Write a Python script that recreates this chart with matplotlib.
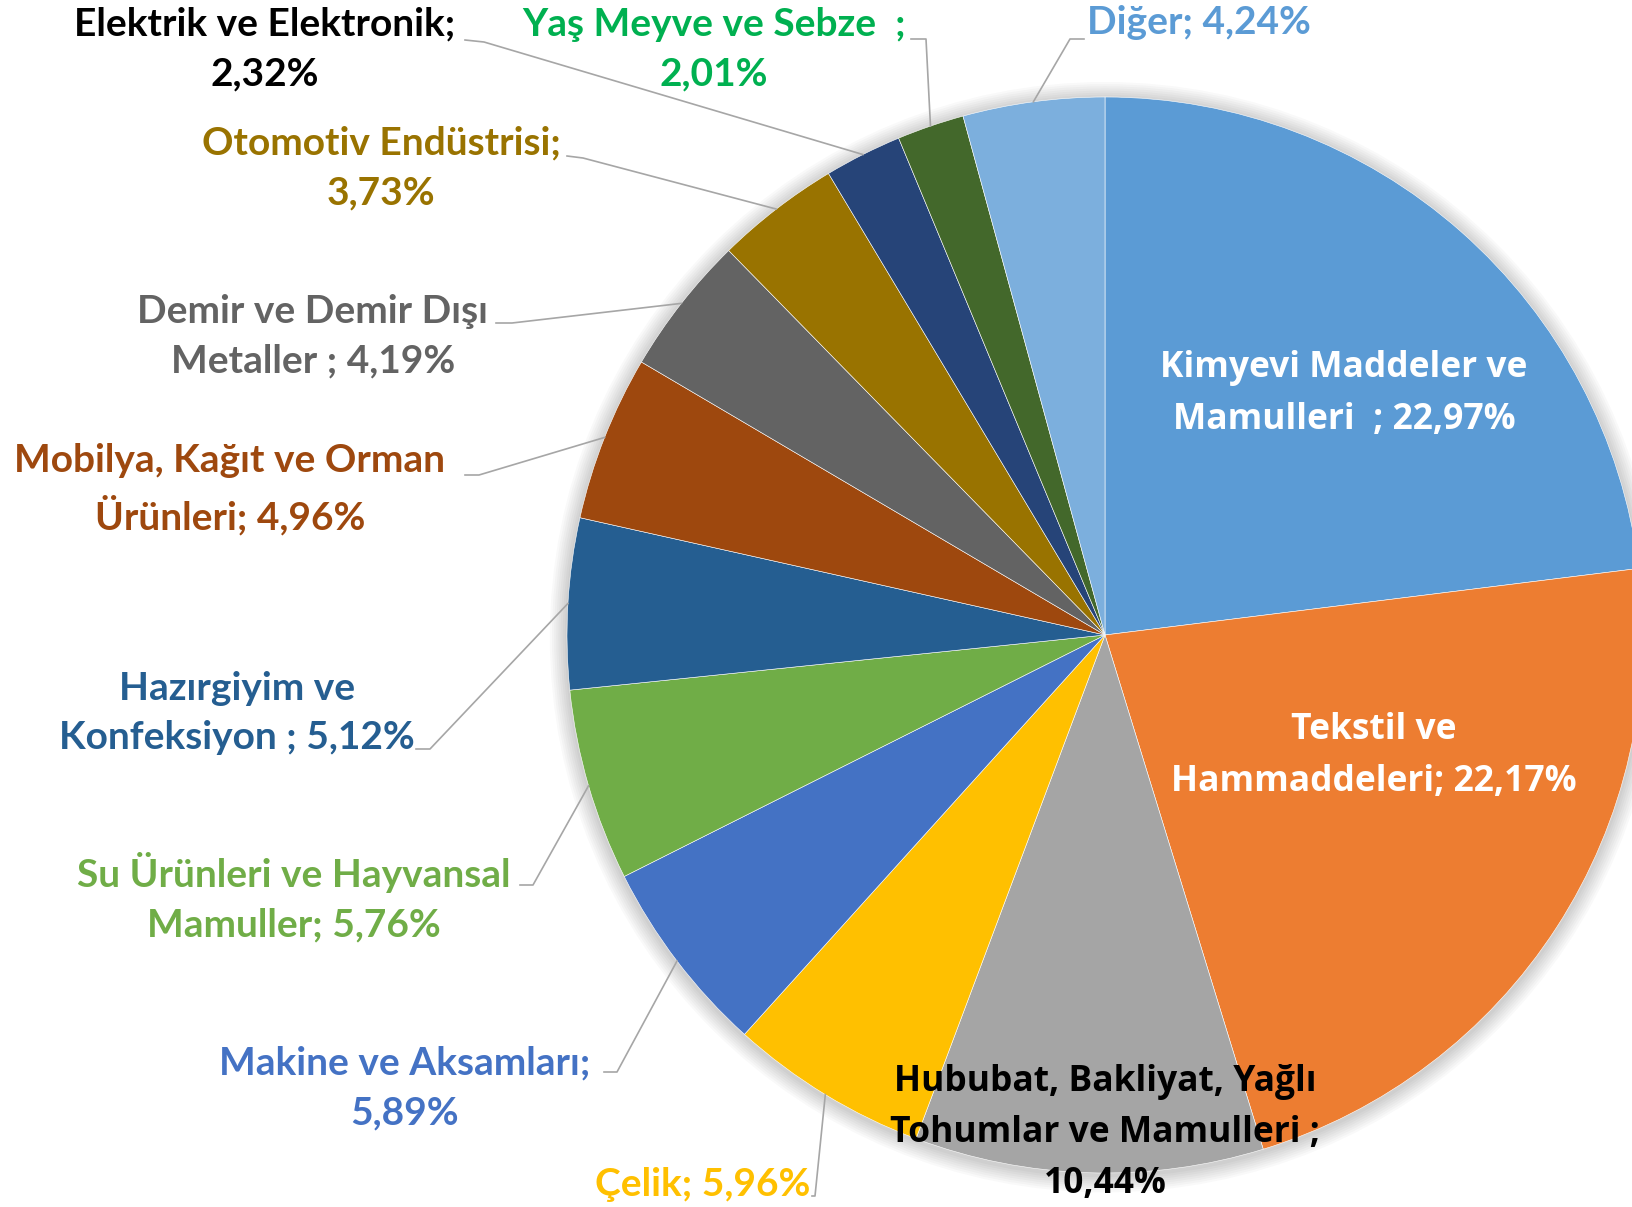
import numpy as np
import matplotlib.pyplot as plt
from matplotlib.patches import Circle

# sector shares (%), clockwise from 12 o'clock
categories = ["Kimyevi Maddeler ve Mamulleri", "Tekstil ve Hammaddeleri",
              "Hububat, Bakliyat, Yağlı Tohumlar ve Mamulleri", "Çelik",
              "Makine ve Aksamları", "Su Ürünleri ve Hayvansal Mamuller",
              "Hazırgiyim ve Konfeksiyon", "Mobilya, Kağıt ve Orman Ürünleri",
              "Demir ve Demir Dışı Metaller", "Otomotiv Endüstrisi",
              "Elektrik ve Elektronik", "Yaş Meyve ve Sebze", "Diğer"]
values = [22.97, 22.17, 10.44, 5.96, 5.89, 5.76, 5.12, 4.96, 4.19, 3.73, 2.32, 2.01, 4.24]
label_fmt = ["Kimyevi Maddeler ve\nMamulleri  ; {}%", "Tekstil ve\nHammaddeleri; {}%",
             "Hububat, Bakliyat, Yağlı\nTohumlar ve Mamulleri ;\n{}%", "Çelik; {}%",
             "Makine ve Aksamları;\n{}%", "Su Ürünleri ve Hayvansal\nMamuller; {}%",
             "Hazırgiyim ve\nKonfeksiyon ; {}%", "Mobilya, Kağıt ve Orman\nÜrünleri; {}%",
             "Demir ve Demir Dışı\nMetaller ; {}%", "Otomotiv Endüstrisi;\n{}%",
             "Elektrik ve Elektronik;\n{}%", "Yaş Meyve ve Sebze  ;\n{}%", "Diğer; {}%"]

colors = ["#5B9BD5", "#ED7D31", "#A5A5A5", "#FFC000", "#4472C4", "#70AD47", "#255E91",
          "#9E480E", "#636363", "#997300", "#264478", "#43682B", "#7CAFDD"]
text_colors = ["white", "white", "black", "#FFC000", "#4472C4", "#70AD47", "#255E91",
               "#9E480E", "#636363", "#997300", "black", "#00B050", "#5B9BD5"]

# layout in pixels of the 1632x1207 output
W, H = 1632, 1207
cx, cy, R = 1105, 635, 538
label_pos = [(1344, 394), (1374, 756), (1105, 1133), (703, 1184), (405, 1088),
             (294, 897), (237, 713), (230, 489), (313, 336), (381, 168),
             (265, 49), (714, 49), (1199, 23)]
# leader stub (start, end) next to the text; None = label inside
stubs = [None, None, None, ((812, 1196), (815, 1196)), ((604, 1072), (617, 1072)),
         ((520, 885), (533, 885)), ((416, 749), (430, 749)), ((465, 475), (479, 475)),
         ((496, 323), (512, 323)), ((567, 156), (583, 158)), ((465, 40), (484, 42)),
         ((911, 39), (926, 39)), ((1084, 39), (1070, 39))]


def to_data(p):
    return (p[0] - cx) / R, (cy - p[1]) / R


fig = plt.figure(figsize=(W / 100, H / 100), dpi=100)
ax = fig.add_axes([0, 0, 1, 1])

# soft shadow around the pie
for k in range(8):
    ax.add_patch(Circle((0, -0.004), 1 + 0.004 * (8 - k), color="black", alpha=0.025, lw=0, zorder=0))

wedges, _ = ax.pie(values, colors=colors, startangle=90, counterclock=False, radius=1,
                   wedgeprops=dict(edgecolor="white", linewidth=0.4, zorder=1))

for i, w in enumerate(wedges):
    txt = label_fmt[i].format(f"{values[i]:.2f}".replace(".", ","))
    tx, ty = to_data(label_pos[i])
    if i < 3:
        fam, fs, ls = "Open Sans", 25.5, 1.56
    else:
        fam, fs, ls = "Lato", 28, 1.5
    ax.text(tx, ty, txt, ha="center", va="center", color=text_colors[i], fontsize=fs,
            fontweight="bold", family=fam, linespacing=ls, zorder=5)
    if stubs[i] is not None:
        mid = np.deg2rad((w.theta1 + w.theta2) / 2)
        ex, ey = np.cos(mid), np.sin(mid)
        (x0, y0), (x1, y1) = to_data(stubs[i][0]), to_data(stubs[i][1])
        ax.plot([x0, x1, ex], [y0, y1, ey], color="#A6A6A6", lw=1.2, zorder=4)

ax.set_xlim(-cx / R, (W - cx) / R)
ax.set_ylim((cy - H) / R, cy / R)
ax.set_aspect("auto")
ax.axis("off")

fig.savefig("out.png", dpi=100, facecolor="white")
